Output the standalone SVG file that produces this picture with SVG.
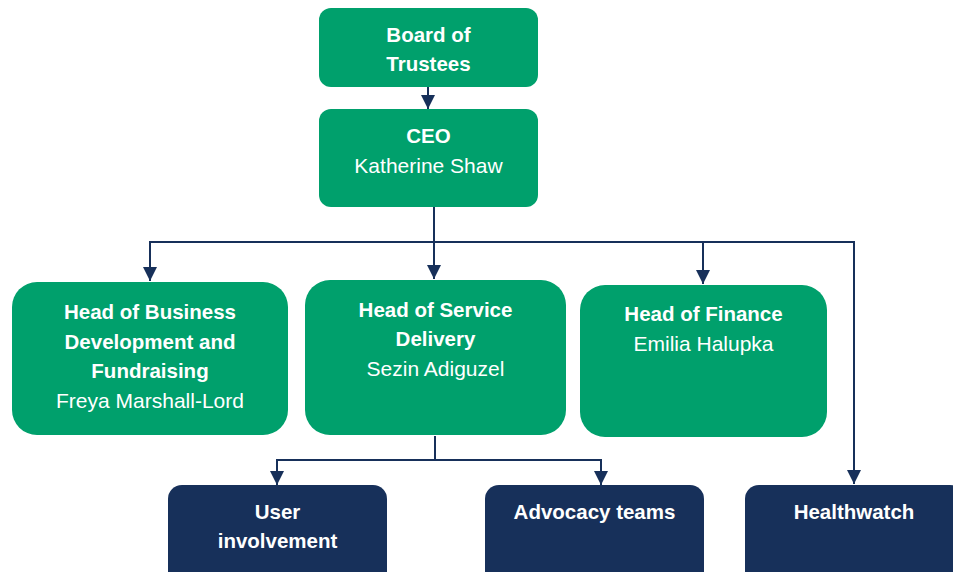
<svg xmlns="http://www.w3.org/2000/svg" width="953" height="572" viewBox="0 0 953 572">
<style>
.g{fill:#00A06C}
.n{fill:#17305A}
text{font-family:"Liberation Sans",Arial,sans-serif;font-size:21px;fill:#fff;text-anchor:middle}
.b{font-weight:bold;font-size:20.5px}
.c{fill:none;stroke:#17305A;stroke-width:2}
</style>
<defs>
<marker id="ah" viewBox="0 0 14 14" refX="14" refY="7" markerWidth="14" markerHeight="14" markerUnits="userSpaceOnUse" orient="auto">
<path d="M0,0 L14,7 L0,14 Z" fill="#17305A"/>
</marker>
</defs>
<rect width="953" height="572" fill="#fff"/>
<g id="connectors">
<path class="c" d="M428,87 V109" marker-end="url(#ah)"/>
<path class="c" d="M434,207 V242 H150 V281" marker-end="url(#ah)"/>
<path class="c" d="M434,242 V279" marker-end="url(#ah)"/>
<path class="c" d="M434,242 H703 V284" marker-end="url(#ah)"/>
<path class="c" d="M703,242 H854 V484" marker-end="url(#ah)"/>
<path class="c" d="M435,436 V460 H277 V485" marker-end="url(#ah)"/>
<path class="c" d="M435,460 H601 V485" marker-end="url(#ah)"/>
</g>
<g id="board">
<rect class="g" x="319" y="8" width="219" height="79" rx="12"/>
<text class="b" x="428.5" y="42">Board of</text>
<text class="b" x="428.5" y="71">Trustees</text>
</g>
<g id="ceo">
<rect class="g" x="319" y="109" width="219" height="98" rx="12"/>
<text class="b" x="428.5" y="143">CEO</text>
<text x="428.5" y="173">Katherine Shaw</text>
</g>
<g id="head-business">
<rect class="g" x="12" y="282" width="276" height="153" rx="25"/>
<text class="b" x="150" y="319">Head of Business</text>
<text class="b" x="150" y="349">Development and</text>
<text class="b" x="150" y="378">Fundraising</text>
<text x="150" y="408">Freya Marshall-Lord</text>
</g>
<g id="head-service">
<rect class="g" x="305" y="280" width="261" height="155" rx="25"/>
<text class="b" x="435.5" y="317">Head of Service</text>
<text class="b" x="435.5" y="346">Delivery</text>
<text x="435.5" y="376">Sezin Adiguzel</text>
</g>
<g id="head-finance">
<rect class="g" x="580" y="285" width="247" height="152" rx="25"/>
<text class="b" x="703.5" y="321">Head of Finance</text>
<text x="703.5" y="351">Emilia Halupka</text>
</g>
<g id="user-involvement">
<rect class="n" x="168" y="485" width="219" height="110" rx="14"/>
<text class="b" x="277.5" y="519">User</text>
<text class="b" x="277.5" y="548">involvement</text>
</g>
<g id="advocacy">
<rect class="n" x="485" y="485" width="219" height="110" rx="14"/>
<text class="b" x="594.5" y="519">Advocacy teams</text>
</g>
<g id="healthwatch">
<rect class="n" x="745" y="485" width="219" height="110" rx="14"/>
<text class="b" x="854" y="519">Healthwatch</text>
</g>
</svg>
